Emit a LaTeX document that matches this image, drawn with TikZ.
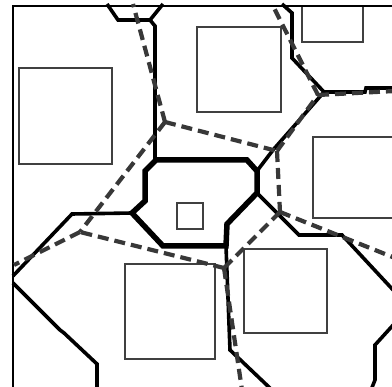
\documentclass[tikz,border=0pt]{standalone}
\begin{document}
\begin{tikzpicture}[x=1pt,y=-1pt,
  frame/.style={line width=2pt, draw=black},
  site/.style={line width=1.3pt, draw=black!75},
  vor/.style={line width=3.6pt, draw=black, line join=miter},
  core/.style={line width=5.5pt, draw=black, line join=miter},
  del/.style={line width=4.2pt, draw=black!78, dash pattern=on 11pt off 6pt}]
\useasboundingbox (0,0) rectangle (392,387);
\clip (0,0) rectangle (392,387);
% sites
\draw[site] (19,68) rectangle (112,164);
\draw[site] (197,27) rectangle (281,112);
\draw[site] (302,6) rectangle (363,42);
\draw[site] (313,137) rectangle (396,218);
\draw[site] (177,203) rectangle (203,229);
\draw[site] (125,264) rectangle (215,359);
\draw[site] (244,249) rectangle (327,333);
% frame
\draw[frame] (13,390) -- (13,6) -- (395,6);
% voronoi cells
\coordinate (c1) at (156,160); \coordinate (c2) at (247,160);
\coordinate (c3) at (257,171); \coordinate (c4) at (257,193);
\coordinate (c5) at (227,224); \coordinate (c6) at (226,246);
\coordinate (c7) at (163,246); \coordinate (c8) at (132,213);
\coordinate (c9) at (145,201); \coordinate (c10) at (145,171);
\coordinate (J) at (324,92);
\draw[vor] (107,4) -- (118,20) -- (150,20) -- (163,4);
\draw[vor] (150,20) -- (155,26) -- (155,160) -- (c1);
\draw[vor] (c8) -- (72,214) -- (13,276);
\draw[vor] (c6) -- (230,350) -- (272,390);
\draw[vor] (c4) -- (299,235) -- (342,235) -- (395,292);
\draw[vor] (c3) -- (273,150) -- (295,125) -- (J);
\draw[vor] (J) -- (365,92) -- (366,88) -- (395,88);
\draw[vor] (J) -- (292,58) -- (292,13) -- (282,4);
\draw[vor] (13,283) -- (60,330) -- (64,333) -- (97,364) -- (97,390);
\draw[vor] (395,323) -- (375,345) -- (375,380) -- (371,390);
\draw[core] (c1) -- (c2) -- (c3) -- (c4) -- (c5) -- (c6) -- (c7) -- (c8) -- (c9) -- (c10) -- cycle;
% delaunay
\coordinate (A) at (165,122); \coordinate (B) at (277,151);
\coordinate (C) at (280,212); \coordinate (D) at (224,268);
\coordinate (E) at (318,95);  \coordinate (F) at (80,232);
\draw[del] (A) -- (133,4);
\draw[del] (A) -- (B);
\draw[del] (A) -- (F);
\draw[del] (B) -- (C);
\draw[del] (B) -- (E);
\draw[del] (E) -- (272,4);
\draw[del] (E) -- (395,91);
\draw[del] (C) -- (395,258);
\draw[del] (C) -- (D);
\draw[del] (D) -- (F);
\draw[del] (D) -- (242,390);
\draw[del] (F) -- (14,265);
\end{tikzpicture}
\end{document}
